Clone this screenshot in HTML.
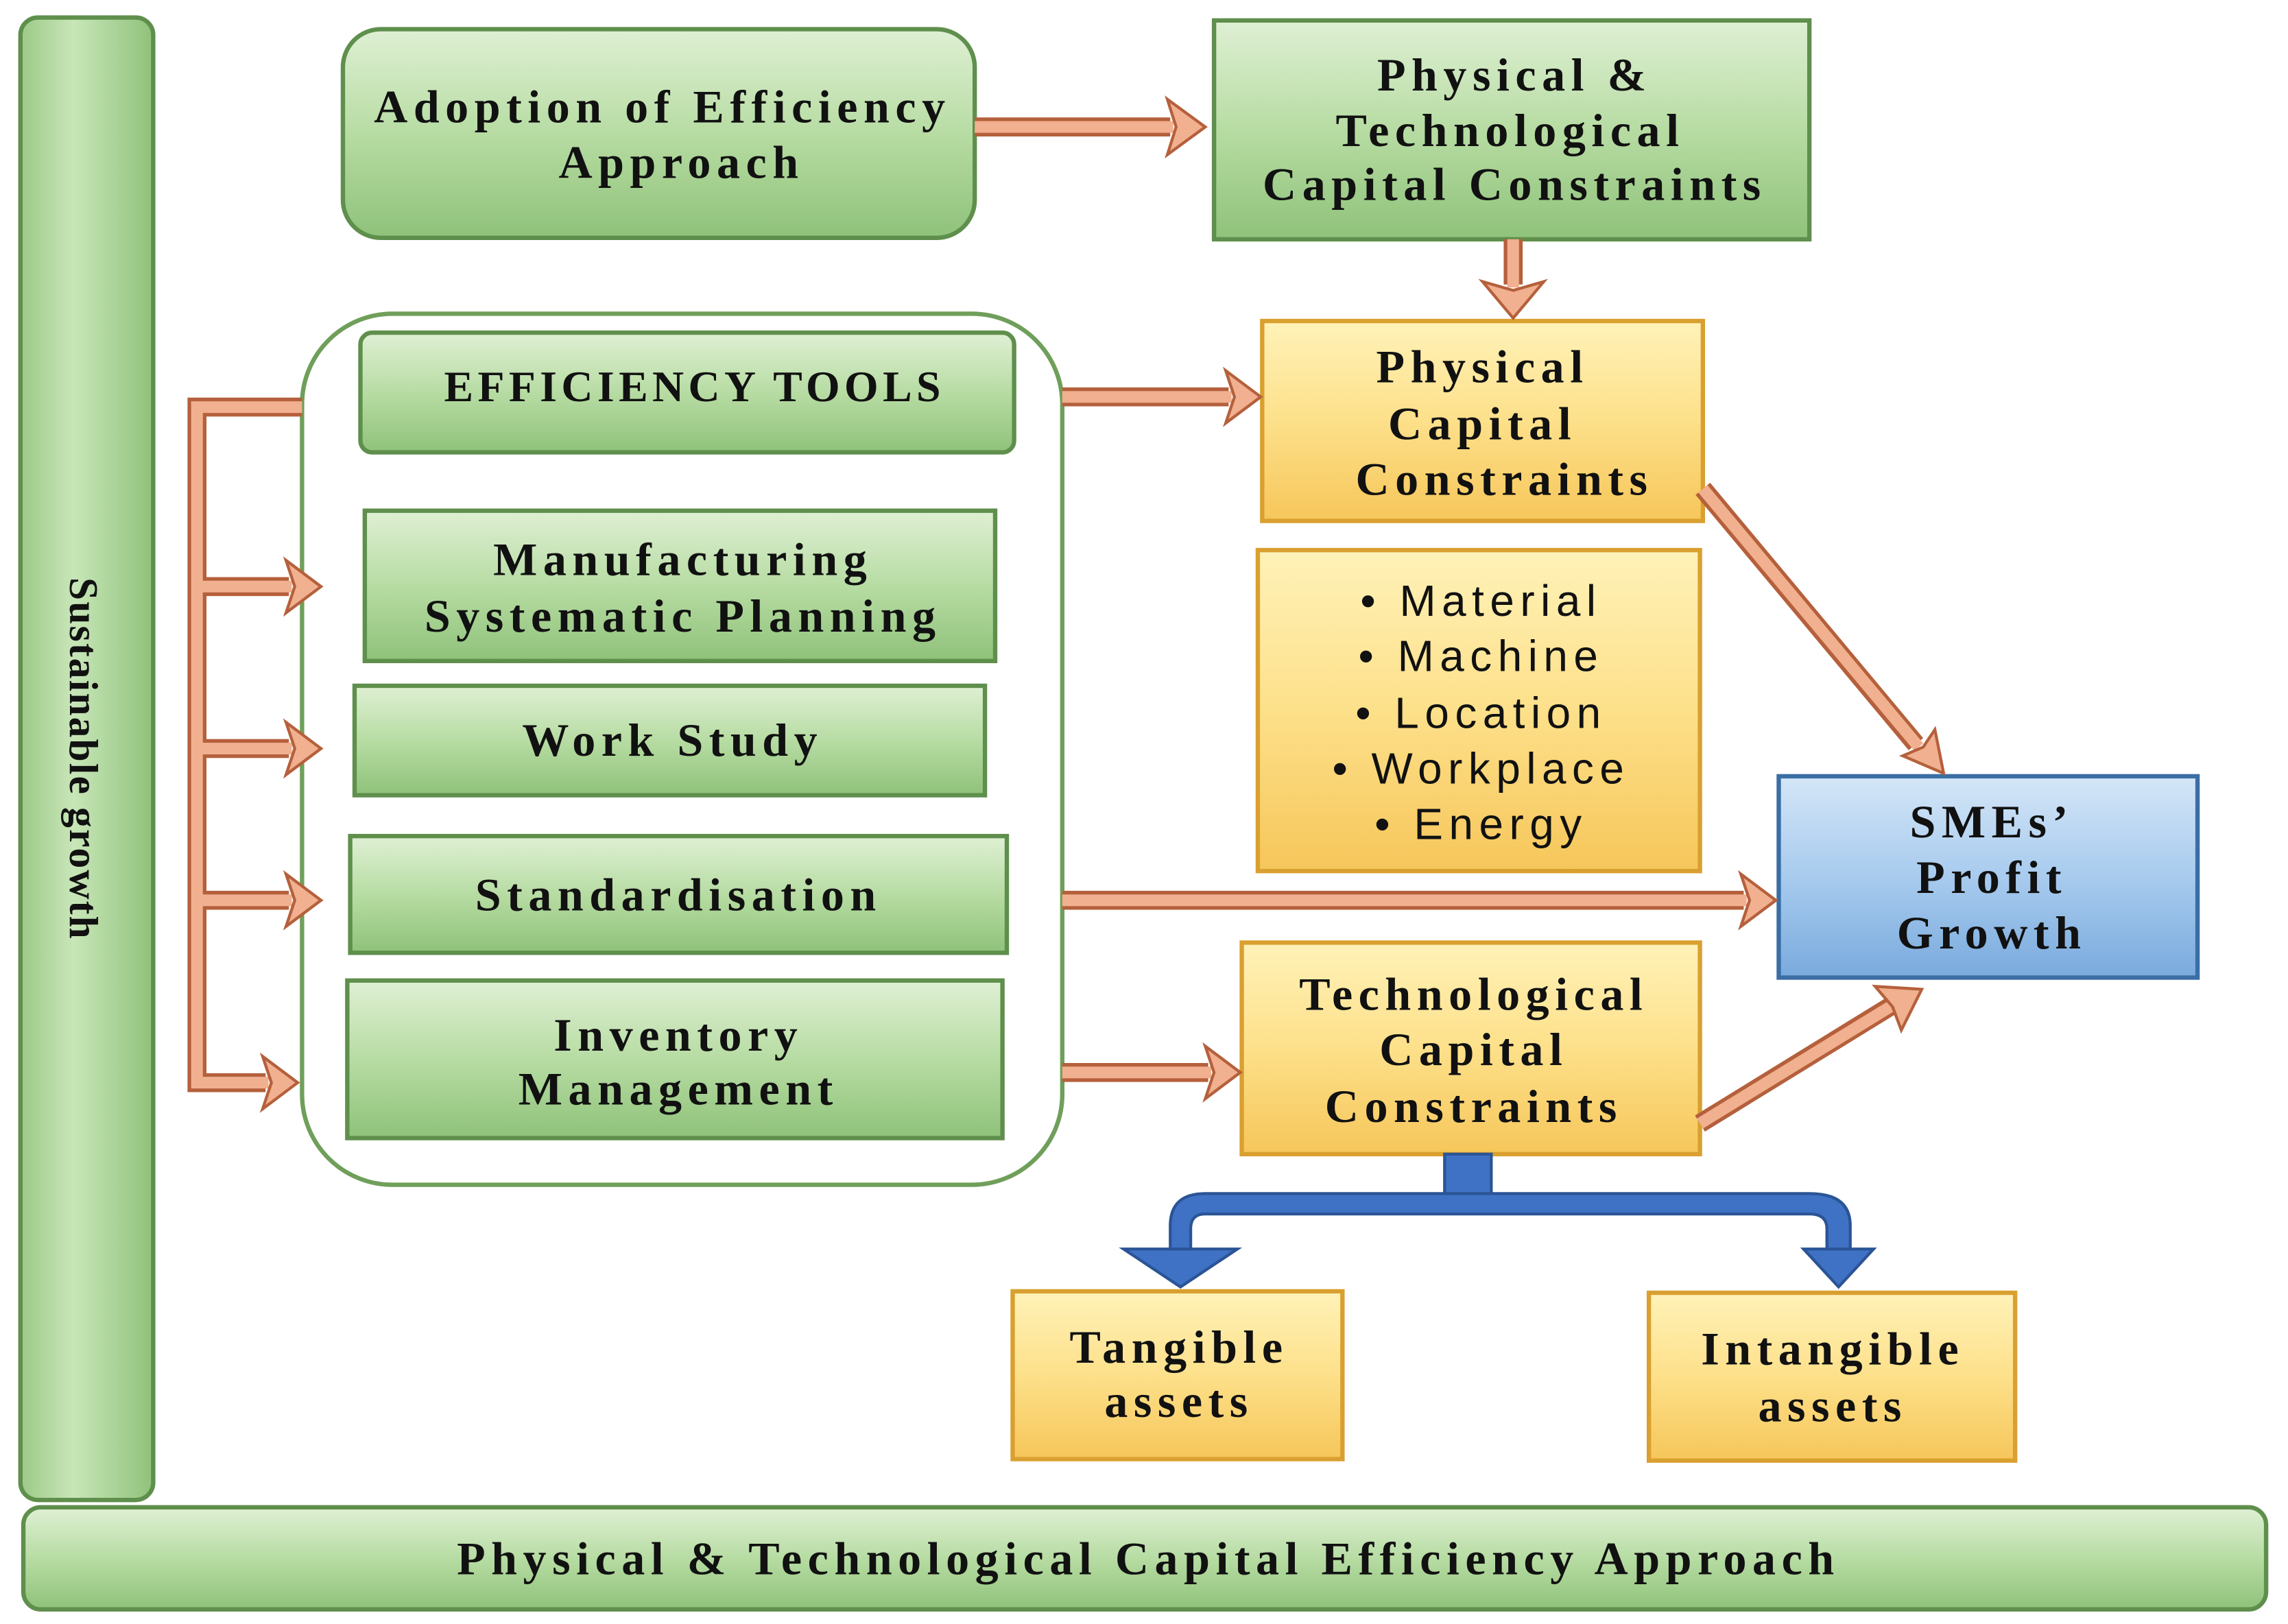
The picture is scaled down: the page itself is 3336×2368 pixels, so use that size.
<!DOCTYPE html>
<html><head><meta charset="utf-8"><style>
html,body{margin:0;padding:0;background:#fff;}
svg{display:block;}
text{font-family:"Liberation Serif",serif;font-weight:bold;fill:#111;letter-spacing:4px;}
</style></head><body>
<svg width="3336" height="2368" viewBox="0 0 1568 1113" xmlns="http://www.w3.org/2000/svg">
<defs>
<linearGradient id="g" x1="0" y1="0" x2="0" y2="1"><stop offset="0" stop-color="#dff0d4"/><stop offset="0.5" stop-color="#b7dca3"/><stop offset="1" stop-color="#8fc27a"/></linearGradient>
<linearGradient id="gv" x1="0" y1="0" x2="1" y2="0"><stop offset="0" stop-color="#9cc987"/><stop offset="0.4" stop-color="#c8e6b8"/><stop offset="1" stop-color="#8fc27a"/></linearGradient>
<linearGradient id="y" x1="0" y1="0" x2="0" y2="1"><stop offset="0" stop-color="#fff2b8"/><stop offset="0.5" stop-color="#fde08a"/><stop offset="1" stop-color="#f6c65a"/></linearGradient>
<linearGradient id="b" x1="0" y1="0" x2="0" y2="1"><stop offset="0" stop-color="#d4e6f7"/><stop offset="0.5" stop-color="#a8cbee"/><stop offset="1" stop-color="#79aadd"/></linearGradient>
</defs>

<!-- left vertical bar -->
<rect x="14" y="12" width="91" height="1016" rx="12" fill="url(#gv)" stroke="#5f8f4c" stroke-width="3"/>
<text x="0" y="0" font-size="28" text-anchor="middle" style="letter-spacing:1px" transform="translate(48,520) rotate(90)">Sustainable growth</text>

<!-- bottom bar -->
<rect x="16" y="1033" width="1537" height="70" rx="12" fill="url(#g)" stroke="#5f8f4c" stroke-width="3"/>
<text x="787" y="1079" font-size="32" text-anchor="middle">Physical &amp; Technological Capital Efficiency Approach</text>

<g font-size="32" text-anchor="middle">
<!-- Adoption -->
<rect x="235" y="20" width="433" height="143" rx="26" fill="url(#g)" stroke="#5f8f4c" stroke-width="3"/>
<text x="454" y="84">Adoption of Efficiency</text>
<text x="467" y="122">Approach</text>

<!-- Phys & Tech -->
<rect x="832" y="14" width="408" height="150" fill="url(#g)" stroke="#5f8f4c" stroke-width="3"/>
<text x="1038" y="62">Physical &amp;</text>
<text x="1035" y="100">Technological</text>
<text x="1038" y="137">Capital Constraints</text>

<!-- container -->
<rect x="207" y="215" width="521" height="597" rx="62" fill="#fff" stroke="#6f9f5a" stroke-width="3"/>

<rect x="247" y="228" width="448" height="82" rx="8" fill="url(#g)" stroke="#5f8f4c" stroke-width="3"/>
<text x="476" y="275" font-size="30" style="letter-spacing:3px">EFFICIENCY TOOLS</text>
<rect x="250" y="350" width="432" height="103" fill="url(#g)" stroke="#5f8f4c" stroke-width="3"/>
<text x="468" y="394">Manufacturing</text>
<text x="468" y="433">Systematic Planning</text>
<rect x="243" y="470" width="432" height="75" fill="url(#g)" stroke="#5f8f4c" stroke-width="3"/>
<text x="461" y="518">Work Study</text>
<rect x="240" y="573" width="450" height="80" fill="url(#g)" stroke="#5f8f4c" stroke-width="3"/>
<text x="465" y="624">Standardisation</text>
<rect x="238" y="672" width="449" height="108" fill="url(#g)" stroke="#5f8f4c" stroke-width="3"/>
<text x="465" y="720">Inventory</text>
<text x="465" y="757">Management</text>

<!-- yellow boxes -->
<rect x="865" y="220" width="302" height="137" fill="url(#y)" stroke="#d9a030" stroke-width="3"/>
<text x="1016" y="262">Physical</text>
<text x="1016" y="301">Capital</text>
<text x="1031" y="339">Constraints</text>

<rect x="862" y="377" width="303" height="220" fill="url(#y)" stroke="#d9a030" stroke-width="3"/>
</g>
<g font-size="30" text-anchor="middle" style="font-family:'Liberation Sans',sans-serif;font-weight:normal;letter-spacing:3.5px">
<text x="1015" y="422" style="font-family:'Liberation Sans',sans-serif;font-weight:normal">• Material</text>
<text x="1015" y="460" style="font-family:'Liberation Sans',sans-serif;font-weight:normal">• Machine</text>
<text x="1015" y="499" style="font-family:'Liberation Sans',sans-serif;font-weight:normal">• Location</text>
<text x="1015" y="537" style="font-family:'Liberation Sans',sans-serif;font-weight:normal">• Workplace</text>
<text x="1015" y="575" style="font-family:'Liberation Sans',sans-serif;font-weight:normal">• Energy</text>
</g>

<g font-size="32" text-anchor="middle">
<rect x="851" y="646" width="314" height="145" fill="url(#y)" stroke="#d9a030" stroke-width="3"/>
<text x="1010" y="692">Technological</text>
<text x="1010" y="730">Capital</text>
<text x="1010" y="769">Constraints</text>

<rect x="694" y="885" width="226" height="115" fill="url(#y)" stroke="#d9a030" stroke-width="3"/>
<text x="808" y="934">Tangible</text>
<text x="808" y="971">assets</text>
<rect x="1130" y="886" width="251" height="115" fill="url(#y)" stroke="#d9a030" stroke-width="3"/>
<text x="1256" y="935">Intangible</text>
<text x="1256" y="974">assets</text>

<!-- SMEs -->
<rect x="1219" y="532" width="287" height="138" fill="url(#b)" stroke="#3a6ea5" stroke-width="3"/>
<text x="1365" y="574">SMEs’</text>
<text x="1365" y="612">Profit</text>
<text x="1365" y="650">Growth</text>
</g>

<!-- arrows -->
<g fill="none">
<g stroke="#b5603c" stroke-width="13">
<line x1="668" y1="87" x2="802" y2="87"/>
<line x1="1037" y1="164" x2="1037" y2="195"/>
<line x1="728" y1="272" x2="842" y2="272"/>
<line x1="1167" y1="335" x2="1313" y2="510"/>
<line x1="728" y1="617" x2="1195" y2="617"/>
<line x1="728" y1="735" x2="828" y2="735"/>
<line x1="1165" y1="770" x2="1295" y2="690"/>
<polyline points="207,279 135,279 135,742 182,742"/>
<line x1="135" y1="402" x2="198" y2="402"/><line x1="135" y1="513" x2="198" y2="513"/><line x1="135" y1="617" x2="198" y2="617"/>
</g>
<g stroke="#f1b08f" stroke-width="8">
<line x1="668" y1="87" x2="804" y2="87"/>
<line x1="1037" y1="164" x2="1037" y2="197"/>
<line x1="728" y1="272" x2="844" y2="272"/>
<line x1="1167" y1="335" x2="1315" y2="512"/>
<line x1="728" y1="617" x2="1197" y2="617"/>
<line x1="728" y1="735" x2="830" y2="735"/>
<line x1="1165" y1="770" x2="1297" y2="689"/>
<polyline points="207,279 135,279 135,742 184,742"/>
<line x1="135" y1="402" x2="200" y2="402"/><line x1="135" y1="513" x2="200" y2="513"/><line x1="135" y1="617" x2="200" y2="617"/>
</g>
</g>
<g fill="#f1b08f" stroke="#b5603c" stroke-width="2">
<polygon points="800,68 826,87 800,106 806,87"/>
<polygon points="1016,193 1037,218 1058,193 1037,199"/>
<polygon points="840,254 864,272 840,290 846,272"/>
<polygon points="1304,518 1332,530 1326,500 1318,512"/>
<polygon points="1193,599 1217,617 1193,635 1199,617"/>
<polygon points="826,717 850,735 826,753 832,735"/>
<polygon points="1285,676 1317,678 1303,706 1297,690"/>
<polygon points="180,724 204,742 180,760 186,742"/>
<polygon points="196,384 220,402 196,420 202,402"/>
<polygon points="196,495 220,513 196,531 202,513"/>
<polygon points="196,599 220,617 196,635 202,617"/>
</g>

<!-- blue connector -->
<g fill="#3f72c4" stroke="#2b5496" stroke-width="2">
<rect x="990" y="791" width="32" height="40"/>
<path d="M802,858 L802,840 Q802,818 826,818 L1240,818 Q1268,818 1268,840 L1268,858 L1252,858 L1252,842 Q1252,832 1240,832 L826,832 Q816,832 816,842 L816,858 Z"/>
<polygon points="770,856 848,856 809,882"/>
<polygon points="1236,856 1284,856 1260,882"/>
</g>
</svg>
</body></html>
